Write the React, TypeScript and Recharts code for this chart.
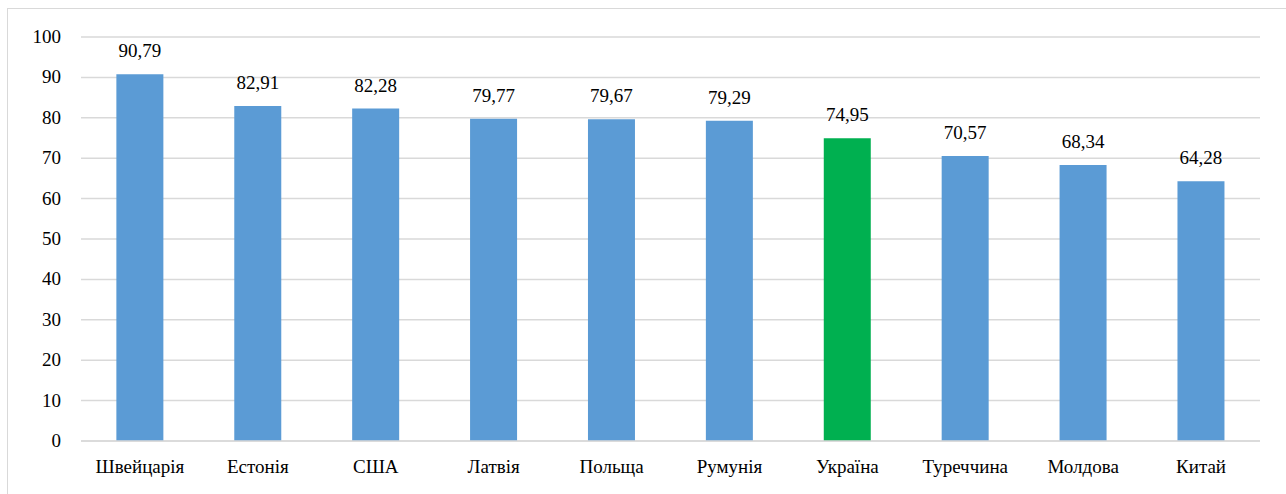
import { BarChart, Bar, XAxis, YAxis, CartesianGrid, Cell, LabelList } from 'recharts';

const countries = ['Швейцарія', 'Естонія', 'США', 'Латвія', 'Польща', 'Румунія', 'Україна', 'Туреччина', 'Молдова', 'Китай'];
const scores = [90.79, 82.91, 82.28, 79.77, 79.67, 79.29, 74.95, 70.57, 68.34, 64.28];
const yTicks = [0, 10, 20, 30, 40, 50, 60, 70, 80, 90, 100];
const highlight = 'Україна';

const data = countries.map((name, i) => ({ name, value: scores[i] }));

const fmt = (v: any) => Number(v).toFixed(2).replace('.', ',');

const FONT = 'Liberation Serif';
const FS = 19;

// force the serif face even if some stylesheet wins over attributes
const forceFont = (el: SVGTextElement | null) => {
    if (!el) return;
    el.style.setProperty('font-family', `"${FONT}", serif`, 'important');
    el.style.setProperty('font-size', `${FS}px`, 'important');
    el.style.setProperty('fill', '#000', 'important');
};

const XTick = ({ x, y, payload }: any) => (
    <text ref={forceFont} x={x} y={y + 13} textAnchor="middle" fontFamily={FONT} fontSize={FS} fill="#000">
        {payload.value}
    </text>
);

const YTick = ({ x, y, payload }: any) => (
    <text ref={forceFont} x={x} y={y + 6} textAnchor="end" fontFamily={FONT} fontSize={FS} fill="#000">
        {payload.value}
    </text>
);

const BarLabel = ({ x, y, width, value }: any) => (
    <text ref={forceFont} x={x + width / 2} y={y - 17} textAnchor="middle" fontFamily={FONT} fontSize={FS} fill="#000">
        {fmt(value)}
    </text>
);

export default function App() {
    return (
        <div style={{ position: 'fixed', left: 0, top: 0, width: 1286, height: 494, background: '#fff', overflow: 'hidden' }}>
            {/* outer chart frame, cropped on right and bottom */}
            <div style={{ position: 'absolute', left: 7, top: 8, width: 1300, height: 520, border: '1px solid #d9d9d9', boxSizing: 'border-box' }} />

            <div style={{ position: 'absolute', left: 0, top: 0, fontFamily: FONT }}>
                <BarChart
                    width={1286}
                    height={494}
                    data={data}
                    margin={{ top: 37, right: 26, left: 21, bottom: 0 }}
                    barCategoryGap="30%"
                >
                    <CartesianGrid vertical={false} stroke="#d9d9d9" strokeWidth={1.5} />

                    <XAxis
                        dataKey="name"
                        height={53}
                        axisLine={{ stroke: '#d9d9d9', strokeWidth: 1.5 }}
                        tickLine={false}
                        tickSize={0}
                        tickMargin={19}
                        interval={0}
                        tick={<XTick />}
                    />

                    <YAxis
                        width={60}
                        domain={[0, 100]}
                        ticks={yTicks}
                        axisLine={false}
                        tickLine={false}
                        tickSize={0}
                        tickMargin={20}
                        tick={<YTick />}
                    />

                    <Bar dataKey="value" isAnimationActive={false}>
                        {data.map((d) => (
                            <Cell key={d.name} fill={d.name === highlight ? '#00b050' : '#5b9bd5'} />
                        ))}
                        <LabelList dataKey="value" content={<BarLabel />} />
                    </Bar>
                </BarChart>
            </div>
        </div>
    );
}
